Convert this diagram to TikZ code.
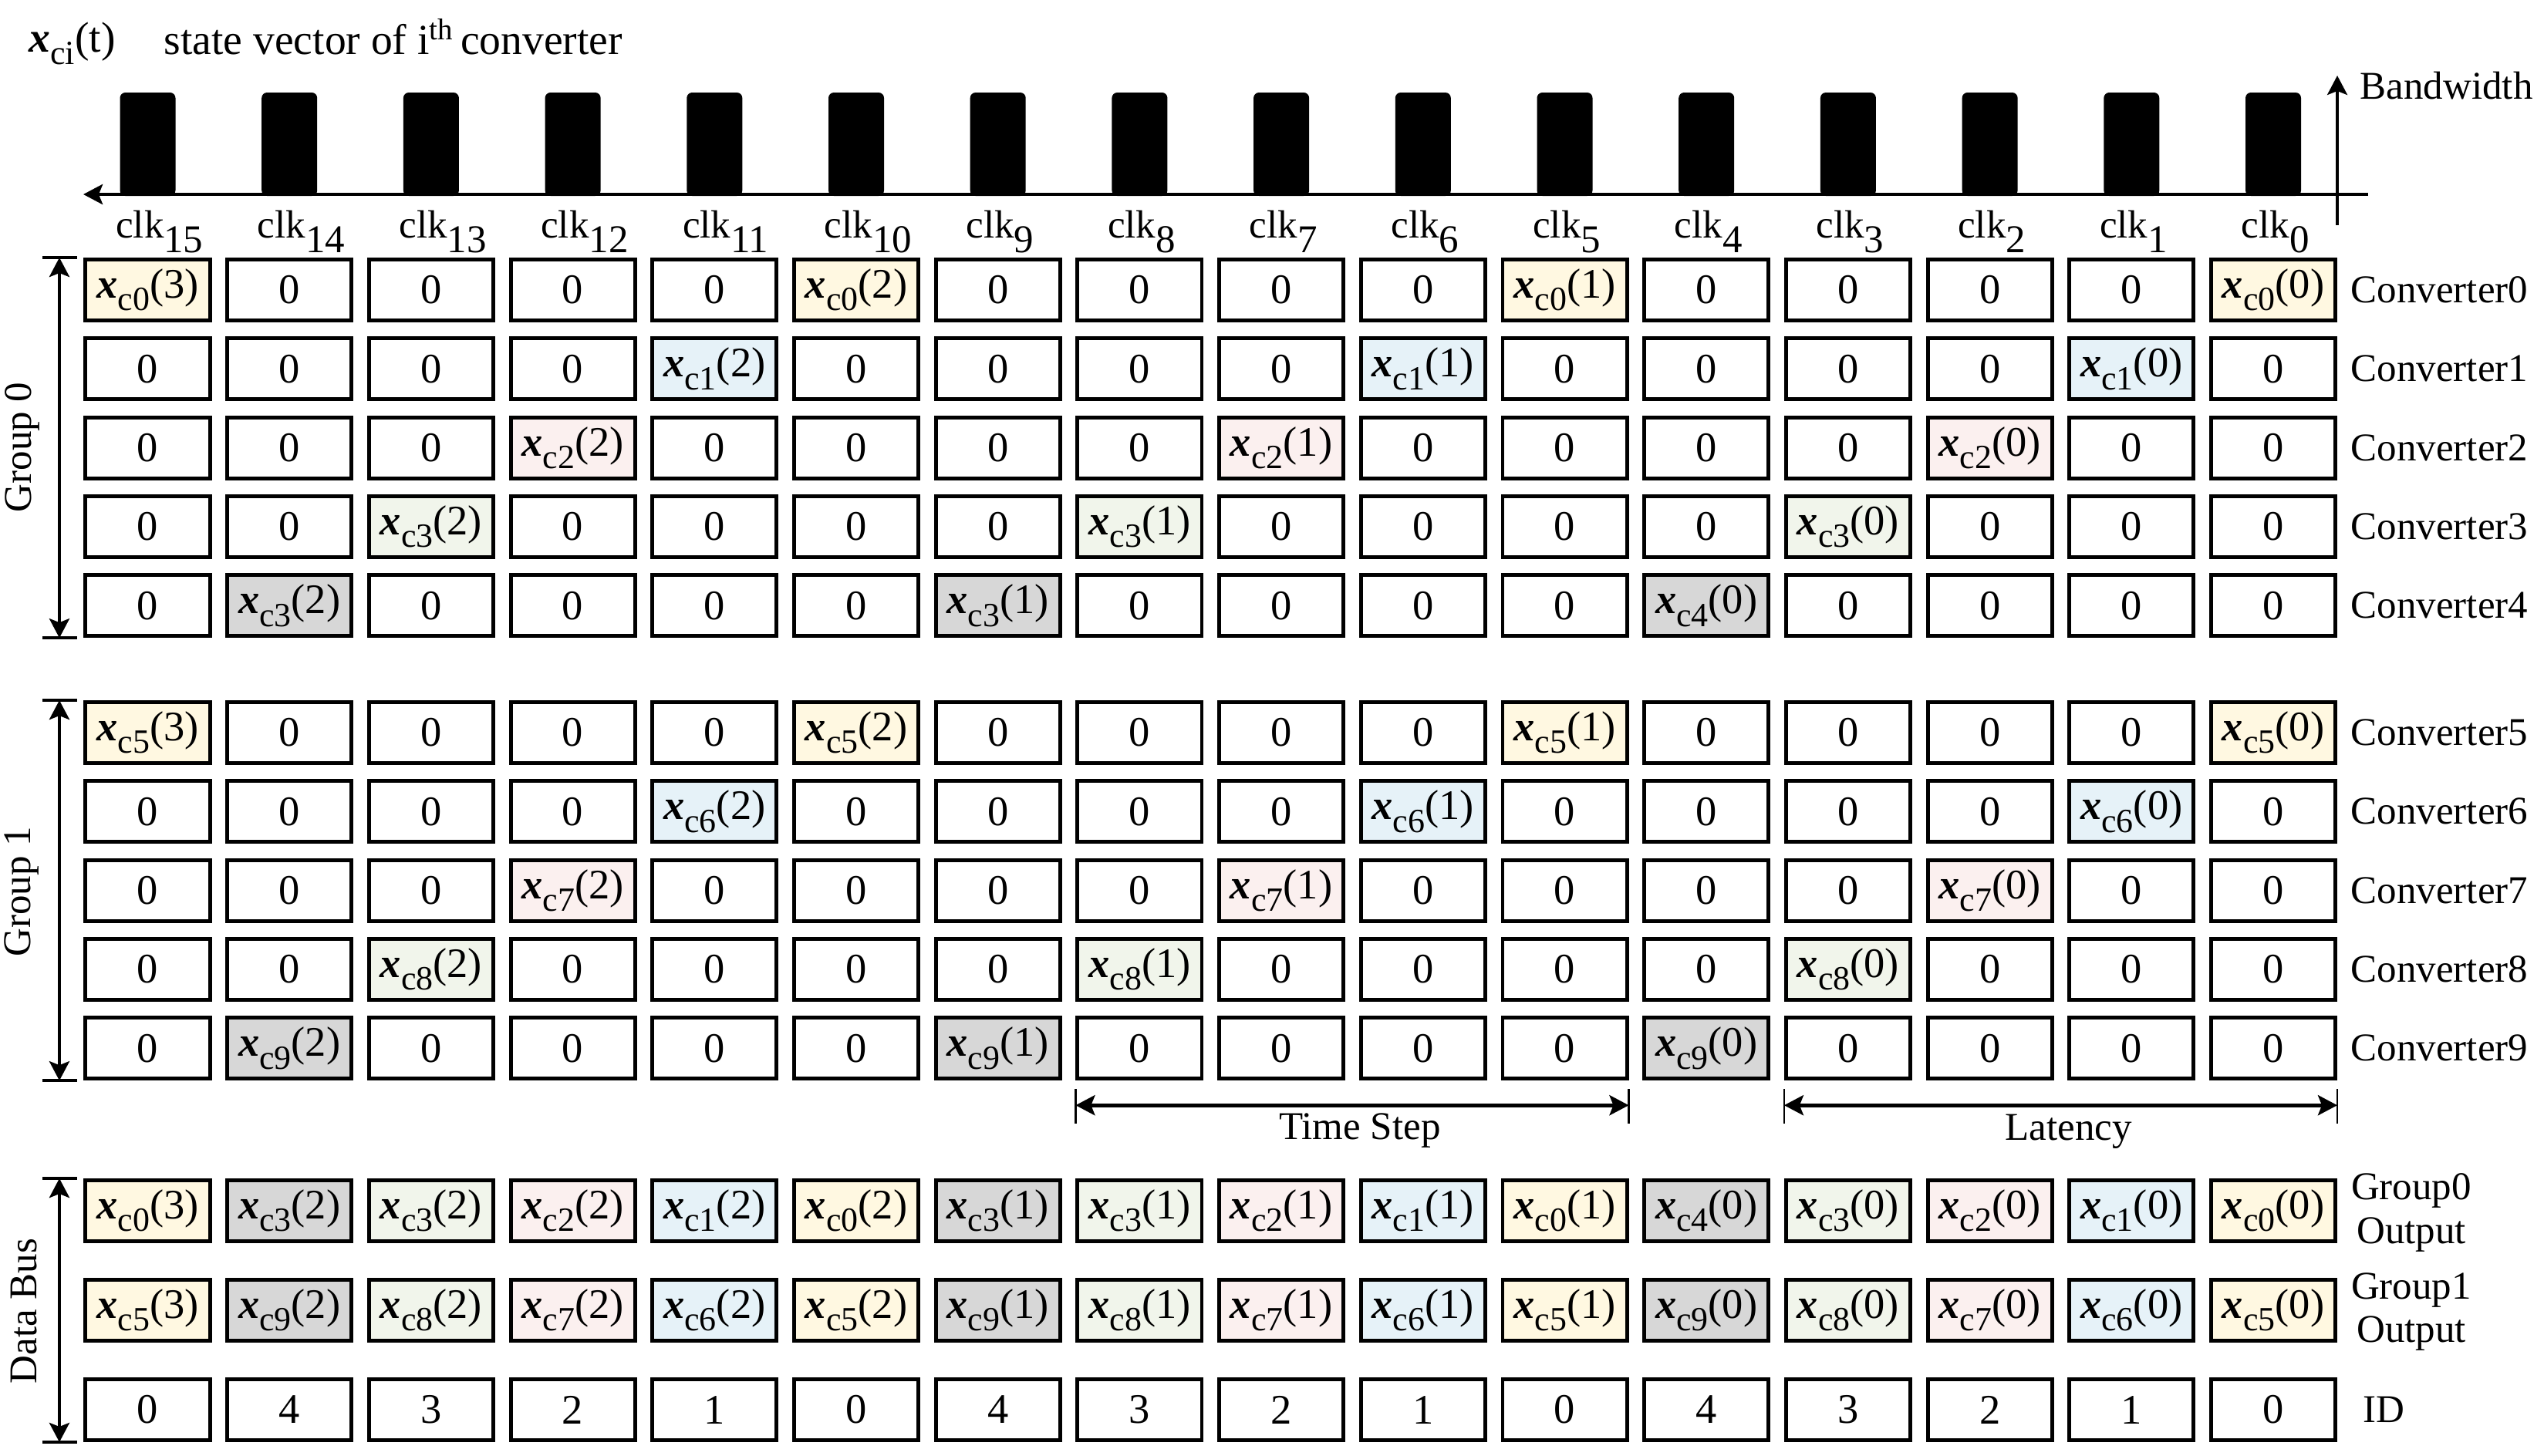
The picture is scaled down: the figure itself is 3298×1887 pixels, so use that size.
\documentclass[tikz,border=0pt]{standalone}
\usepackage{fontspec}
\setmainfont{Liberation Serif}
\usetikzlibrary{arrows.meta,calc}
\definecolor{cY}{HTML}{FFF8E1}
\definecolor{cB}{HTML}{E6F2F8}
\definecolor{cP}{HTML}{FBF0EF}
\definecolor{cG}{HTML}{F1F5EB}
\definecolor{cK}{HTML}{D7D7D7}
\colorlet{rc0}{cY}
\colorlet{rc1}{cB}
\colorlet{rc2}{cP}
\colorlet{rc3}{cG}
\colorlet{rc4}{cK}
\newcommand\xsub[2]{\textbf{\textit{x}}\raisebox{-0.3em}{\fontsize{12.5}{12.5}\selectfont c#1}(#2)}
\newcommand\clklab[1]{clk\raisebox{-0.38em}{#1}}
\begin{document}
\begin{tikzpicture}[x=0.01cm,y=-0.01cm,
  >={Stealth[length=0.25cm,width=0.26cm,inset=0.05cm]},
  cell/.style={draw,line width=1.4pt,minimum width=1.61cm,minimum height=0.79cm,inner sep=0pt,font=\fontsize{15.5}{16}\selectfont},
  lab/.style={font=\fontsize{14.5}{16.2}\selectfont,inner sep=0pt},
  hdr/.style={font=\fontsize{15.8}{18}\selectfont,inner sep=0pt},
  arr/.style={line width=1.25pt},
  tick/.style={line width=0.7pt}]
\useasboundingbox (0,0) rectangle (3298,1887);

% header
\node[hdr,anchor=base west] (xlab) at (37,67) {\xsub{i}{t}};
\node[hdr,anchor=base west] (desc) at (212,70) {state vector of i\textsuperscript{th}\hspace{0.15em}converter};

% clock bars
\foreach \kk in {0,...,15}{
  \fill[rounded corners=2pt] ({191.5+183.7*\kk-36},120) rectangle ({191.5+183.7*\kk+36},254);
}
\coordinate (axR) at (3070,252);
\coordinate (axL) at (108,252);
\draw[line width=1.3pt,->] (axR) -- (axL);
\coordinate (bwB) at (3030,292);
\coordinate (bwT) at (3030,98);
\draw[line width=1pt,->] (bwB) -- (bwT);
\node[lab,anchor=base west] (bw) at (3059,128) {Bandwidth};

% clk labels
\foreach \kk in {0,...,15}{
  \pgfmathtruncatemacro\nn{15-\kk}
  \node[lab,anchor=base west] (clk\kk) at ({191.5+183.7*\kk-42},308) {\clklab{\nn}};
}

% converter rows
\foreach \gg in {0,1}{
 \foreach \rr in {0,...,4}{
  \pgfmathtruncatemacro\row{5*\gg+\rr}
  \pgfmathsetmacro\yy{376+574*\gg+102.3*\rr}
  \node[lab,anchor=west] (conv\row) at (3047,\yy) {Converter\row};
  \foreach \kk in {0,...,15}{
   \pgfmathtruncatemacro\mm{mod(\kk,5)}
   \pgfmathtruncatemacro\ww{mod(5-\rr,5)}
   \pgfmathtruncatemacro\vv{(15-\kk)/5}
   \ifnum\mm=\ww
     \def\cid{\row}\ifnum\row=4 \ifnum\kk<11 \def\cid{3}\fi\fi
     \node[cell,fill=rc\rr] (c-\row-\kk) at ({191.5+183.7*\kk},\yy) {\xsub{\cid}{\vv}};
   \else
     \node[cell] (c-\row-\kk) at ({191.5+183.7*\kk},\yy) {0};
   \fi
  }
 }
}

% data bus rows
\foreach \kk in {0,...,15}{
  \pgfmathtruncatemacro\rr{mod(5-mod(\kk,5),5)}
  \pgfmathtruncatemacro\vv{(15-\kk)/5}
  \def\cidA{\rr}\ifnum\rr=4 \ifnum\kk<11 \def\cidA{3}\fi\fi
  \pgfmathtruncatemacro\cidB{5+\rr}
  \node[cell,fill=rc\rr] (b0-\kk) at ({191.5+183.7*\kk},1570) {\xsub{\cidA}{\vv}};
  \node[cell,fill=rc\rr] (b1-\kk) at ({191.5+183.7*\kk},1699) {\xsub{\cidB}{\vv}};
  \node[cell] (id-\kk) at ({191.5+183.7*\kk},1828) {\rr};
}

% right labels for bus
\node[lab,align=center] (o0) at (3126,1572) {Group0\\Output};
\node[lab,align=center] (o1) at (3126,1701) {Group1\\Output};
\node[lab] (idl) at (3090,1828) {ID};

% left group arrows
\coordinate (g0t) at ($(c-0-0.north west)+(-31.5,0)$);
\coordinate (g0b) at ($(c-4-0.south west)+(-31.5,0)$);
\coordinate (g1t) at ($(c-5-0.north west)+(-31.5,0)$);
\coordinate (g1b) at ($(c-9-0.south west)+(-31.5,0)$);
\coordinate (dbt) at ($(b0-0.north west)+(-31.5,0)$);
\coordinate (dbb) at ($(id-0.south west)+(-31.5,0)$);
\foreach \p in {g0t,g0b,g1t,g1b,dbt,dbb}{
  \draw[arr] ($(\p)+(-22,0)$) -- ($(\p)+(23,0)$);
}
\draw[arr,<->] (g0t) -- (g0b);
\draw[arr,<->] (g1t) -- (g1b);
\draw[arr,<->] (dbt) -- (dbb);
\node[lab,rotate=90] (g0lab) at (29,580) {Group 0};
\node[lab,rotate=90] (g1lab) at (28,1156) {Group 1};
\node[lab,rotate=90] (dblab) at (31,1700) {Data Bus};

% time step and latency
\coordinate (tsL) at ($(c-9-7.south west)+(0,32)$);
\coordinate (tsR) at ($(c-9-10.south east)+(0,32)$);
\coordinate (laL) at ($(c-9-12.south west)+(0,32)$);
\coordinate (laR) at ($(c-9-15.south east)+(0,32)$);
\foreach \p in {tsL,tsR,laL,laR}{
  \draw[tick] ($(\p)+(0,-21)$) -- ($(\p)+(0,24)$);
}
\draw[line width=1.3pt,<->] (tsL) -- (tsR);
\draw[line width=1.3pt,<->] (laL) -- (laR);
\node[lab,anchor=base] (tslab) at ($(tsL)!0.5!(tsR)+(10,44)$) {Time Step};
\node[lab,anchor=base] (lalab) at ($(laL)!0.5!(laR)+(10,45)$) {Latency};
\end{tikzpicture}
\end{document}
